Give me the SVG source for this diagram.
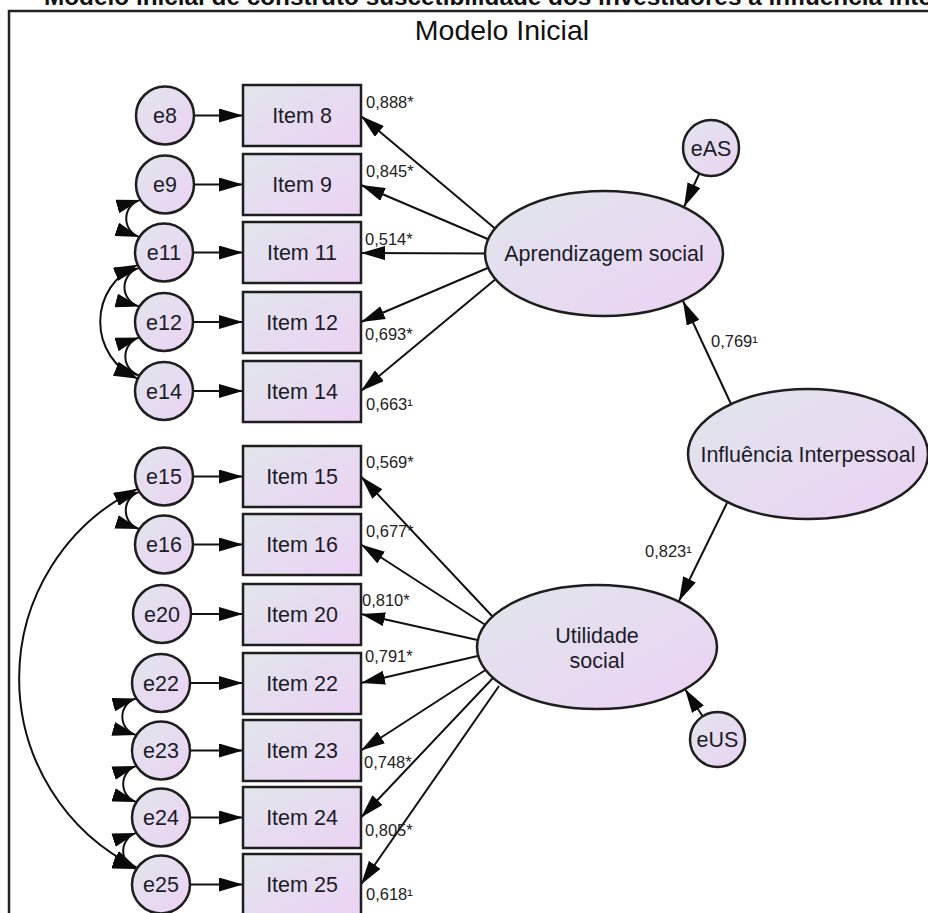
<svg xmlns="http://www.w3.org/2000/svg" width="928" height="913" viewBox="0 0 928 913">
  <style>
    .lbl { font-family: "Liberation Sans", Arial, sans-serif; font-size: 21.5px; fill: #1c1c28; text-anchor: middle; }
    .coef { font-family: "Liberation Sans", Arial, sans-serif; font-size: 16.5px; fill: #222; }
    .title { font-family: "Liberation Sans", Arial, sans-serif; font-size: 28.5px; fill: #111; text-anchor: middle; }
    .cap { font-family: "Liberation Sans", Arial, sans-serif; font-size: 24px; font-weight: bold; fill: #111; }
    .box { fill: url(#fill); stroke: #1e1e1e; stroke-width: 2.5; }
    .conn { fill: none; stroke: #111; stroke-width: 2; }
    .arr { marker-end: url(#ah); }
    .dbl { marker-start: url(#ah); marker-end: url(#ah); }
  </style>
  <defs>
    <linearGradient id="fill" x1="0" y1="0" x2="1" y2="1">
      <stop offset="0" stop-color="#e0e6ec"/>
      <stop offset="1" stop-color="#ecd2f4"/>
    </linearGradient>
    <marker id="ah" viewBox="0 0 24 14" refX="24" refY="7" markerWidth="24" markerHeight="14" markerUnits="userSpaceOnUse" orient="auto-start-reverse">
      <path d="M0,0 L24,7 L0,14 z" fill="#0a0a0a"/>
    </marker>
  </defs>

  <rect width="928" height="913" fill="#fff"/>

  <!-- caption line running off the top edge -->
  <text class="cap" x="44" y="5" textLength="888" lengthAdjust="spacingAndGlyphs">Modelo inicial de construto suscetibilidade dos investidores à influência inte</text>

  <!-- frame -->
  <rect x="9" y="11" width="940" height="920" fill="none" stroke="#222" stroke-width="2.5"/>
  <text class="title" x="502" y="40">Modelo Inicial</text>

  <!-- connectors -->
  <g id="connectors" class="conn">
    <!-- error terms to indicators -->
    <line class="arr" x1="194" y1="115.5" x2="243" y2="115.5"/>
    <line class="arr" x1="194" y1="184.5" x2="243" y2="184.5"/>
    <line class="arr" x1="193" y1="252.5" x2="243" y2="252.5"/>
    <line class="arr" x1="193" y1="322" x2="243" y2="322"/>
    <line class="arr" x1="193" y1="391" x2="243" y2="391"/>
    <line class="arr" x1="193" y1="476.5" x2="243" y2="476.5"/>
    <line class="arr" x1="193" y1="544.5" x2="243" y2="544.5"/>
    <line class="arr" x1="191" y1="614" x2="243" y2="614"/>
    <line class="arr" x1="190" y1="683" x2="243" y2="683"/>
    <line class="arr" x1="190" y1="750.5" x2="243" y2="750.5"/>
    <line class="arr" x1="190" y1="817.5" x2="243" y2="817.5"/>
    <line class="arr" x1="190" y1="884.5" x2="243" y2="884.5"/>

    <!-- Aprendizagem social loadings -->
    <line class="arr" x1="498" y1="231" x2="361" y2="116"/>
    <line class="arr" x1="490" y1="240" x2="361" y2="185"/>
    <line class="arr" x1="489" y1="253.5" x2="361" y2="253"/>
    <line class="arr" x1="490" y1="267" x2="361" y2="322"/>
    <line class="arr" x1="497" y1="278" x2="361" y2="391"/>

    <!-- Utilidade social loadings -->
    <line class="arr" x1="493" y1="617" x2="361" y2="476.5"/>
    <line class="arr" x1="487" y1="626" x2="361" y2="544.5"/>
    <line class="arr" x1="482" y1="641" x2="361" y2="614"/>
    <line class="arr" x1="482" y1="655" x2="361" y2="683"/>
    <line class="arr" x1="487" y1="669" x2="361" y2="750.5"/>
    <line class="arr" x1="493" y1="678" x2="361" y2="817.5"/>
    <line class="arr" x1="499" y1="686" x2="361" y2="884.5"/>

    <!-- structural paths and disturbances -->
    <line class="arr" x1="699.3" y1="173.5" x2="684" y2="207"/>
    <line class="arr" x1="731" y1="404" x2="683" y2="301"/>
    <line class="arr" x1="727" y1="503" x2="679" y2="601"/>
    <line class="arr" x1="702.6" y1="716.3" x2="685" y2="689"/>

    <!-- covariances -->
    <path class="dbl" d="M140.4,199.9 A19.5,19.5 0 0 0 139.4,237.1"/>
    <path class="dbl" d="M139.4,267.9 A20,20 0 0 0 139.4,306.6"/>
    <path class="dbl" d="M139.4,337.4 A20,20 0 0 0 139.4,375.6"/>
    <path class="dbl" d="M137.7,264.8 A62,62 0 0 0 137.7,378.7"/>
    <path class="dbl" d="M139.4,491.9 A19.5,19.5 0 0 0 139.4,529.1"/>
    <path class="dbl" d="M137.7,488.8 A211,211 0 0 0 137.2,867.9"/>
    <path class="dbl" d="M136.4,698.4 A19,19 0 0 0 136.4,735.1"/>
    <path class="dbl" d="M136.4,765.9 A19,19 0 0 0 136.4,802.1"/>
    <path class="dbl" d="M136.4,832.9 A19,19 0 0 0 136.4,869.1"/>
  </g>

  <!-- indicators -->
  <g id="item8"><rect class="box" x="243" y="85" width="118" height="61"/><text class="lbl" x="302" y="123">Item 8</text></g>
  <g id="item9"><rect class="box" x="243" y="154" width="118" height="61"/><text class="lbl" x="302" y="192">Item 9</text></g>
  <g id="item11"><rect class="box" x="243" y="222" width="118" height="61"/><text class="lbl" x="302" y="260">Item 11</text></g>
  <g id="item12"><rect class="box" x="243" y="292" width="118" height="61"/><text class="lbl" x="302" y="329.5">Item 12</text></g>
  <g id="item14"><rect class="box" x="243" y="361" width="118" height="61"/><text class="lbl" x="302" y="398.5">Item 14</text></g>
  <g id="item15"><rect class="box" x="243" y="446" width="118" height="61"/><text class="lbl" x="302" y="484">Item 15</text></g>
  <g id="item16"><rect class="box" x="243" y="514" width="118" height="61"/><text class="lbl" x="302" y="552">Item 16</text></g>
  <g id="item20"><rect class="box" x="243" y="584" width="118" height="61"/><text class="lbl" x="302" y="621.5">Item 20</text></g>
  <g id="item22"><rect class="box" x="243" y="653" width="118" height="61"/><text class="lbl" x="302" y="690.5">Item 22</text></g>
  <g id="item23"><rect class="box" x="243" y="720" width="118" height="61"/><text class="lbl" x="302" y="758">Item 23</text></g>
  <g id="item24"><rect class="box" x="243" y="787" width="118" height="61"/><text class="lbl" x="302" y="825">Item 24</text></g>
  <g id="item25"><rect class="box" x="243" y="854" width="118" height="61"/><text class="lbl" x="302" y="892">Item 25</text></g>

  <!-- error terms -->
  <g id="e8"><circle class="box" cx="165" cy="115.5" r="29"/><text class="lbl" x="165" y="123">e8</text></g>
  <g id="e9"><circle class="box" cx="165" cy="184.5" r="29"/><text class="lbl" x="165" y="192">e9</text></g>
  <g id="e11"><circle class="box" cx="164" cy="252.5" r="29"/><text class="lbl" x="164" y="260">e11</text></g>
  <g id="e12"><circle class="box" cx="164" cy="322" r="29"/><text class="lbl" x="164" y="329.5">e12</text></g>
  <g id="e14"><circle class="box" cx="164" cy="391" r="29"/><text class="lbl" x="164" y="398.5">e14</text></g>
  <g id="e15"><circle class="box" cx="164" cy="476.5" r="29"/><text class="lbl" x="164" y="484">e15</text></g>
  <g id="e16"><circle class="box" cx="164" cy="544.5" r="29"/><text class="lbl" x="164" y="552">e16</text></g>
  <g id="e20"><circle class="box" cx="162" cy="614" r="29"/><text class="lbl" x="162" y="621.5">e20</text></g>
  <g id="e22"><circle class="box" cx="161" cy="683" r="29"/><text class="lbl" x="161" y="690.5">e22</text></g>
  <g id="e23"><circle class="box" cx="161" cy="750.5" r="29"/><text class="lbl" x="161" y="758">e23</text></g>
  <g id="e24"><circle class="box" cx="161" cy="817.5" r="29"/><text class="lbl" x="161" y="825">e24</text></g>
  <g id="e25"><circle class="box" cx="161" cy="884.5" r="29"/><text class="lbl" x="161" y="892">e25</text></g>

  <!-- latent variables -->
  <g id="aprendizagem"><ellipse class="box" cx="604" cy="253.5" rx="119" ry="62.5"/><text class="lbl" x="604" y="261">Aprendizagem social</text></g>
  <g id="influencia"><ellipse class="box" cx="808" cy="454" rx="120" ry="65"/><text class="lbl" x="808" y="461.5">Influência Interpessoal</text></g>
  <g id="utilidade"><ellipse class="box" cx="597" cy="647" rx="120" ry="62"/><text class="lbl" x="597" y="643">Utilidade</text><text class="lbl" x="597" y="668">social</text></g>
  <g id="eAS"><circle class="box" cx="711" cy="148" r="28"/><text class="lbl" x="711" y="155.5">eAS</text></g>
  <g id="eUS"><circle class="box" cx="717.5" cy="739.5" r="27.5"/><text class="lbl" x="717.5" y="747">eUS</text></g>

  <!-- estimates -->
  <g id="estimates">
    <text class="coef" x="366" y="108">0,888*</text>
    <text class="coef" x="366" y="177">0,845*</text>
    <text class="coef" x="365" y="245">0,514*</text>
    <text class="coef" x="365" y="340">0,693*</text>
    <text class="coef" x="366" y="410">0,663¹</text>
    <text class="coef" x="366" y="468">0,569*</text>
    <text class="coef" x="366" y="537">0,677*</text>
    <text class="coef" x="362" y="606">0,810*</text>
    <text class="coef" x="365" y="662">0,791*</text>
    <text class="coef" x="364" y="768">0,748*</text>
    <text class="coef" x="365" y="836">0,805*</text>
    <text class="coef" x="366" y="900">0,618¹</text>
    <text class="coef" x="711" y="347">0,769¹</text>
    <text class="coef" x="645" y="557">0,823¹</text>
  </g>
</svg>
